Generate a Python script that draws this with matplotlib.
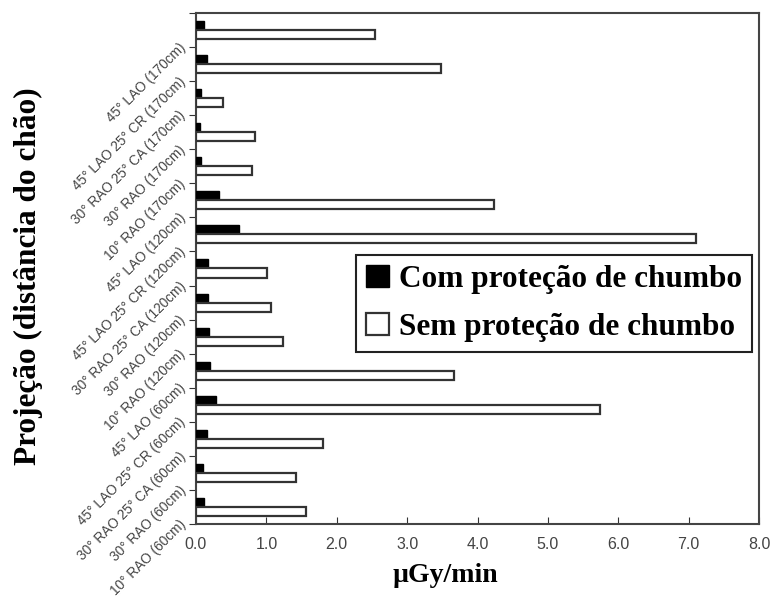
import numpy as np
import matplotlib
matplotlib.use("Agg")
import matplotlib.pyplot as plt
from matplotlib.transforms import ScaledTranslation

# categories from top to bottom
categories = [
    "45° LAO (170cm)", "45° LAO 25° CR (170cm)", "30° RAO 25° CA (170cm)",
    "30° RAO (170cm)", "10° RAO (170cm)",
    "45° LAO (120cm)", "45° LAO 25° CR (120cm)", "30° RAO 25° CA (120cm)",
    "30° RAO (120cm)", "10° RAO (120cm)",
    "45° LAO (60cm)", "45° LAO 25° CR (60cm)", "30° RAO 25° CA (60cm)",
    "30° RAO (60cm)", "10° RAO (60cm)",
]
com_protecao = [0.12, 0.15, 0.07, 0.06, 0.07, 0.33, 0.61, 0.17,
                0.17, 0.18, 0.20, 0.28, 0.15, 0.10, 0.11]
sem_protecao = [2.54, 3.48, 0.38, 0.84, 0.79, 4.23, 7.11, 1.01,
                1.06, 1.24, 3.66, 5.74, 1.81, 1.42, 1.56]
xticks = [0, 1, 2, 3, 4, 5, 6, 7, 8]

serif = ["Liberation Serif", "DejaVu Serif"]
sans = ["Liberation Sans", "DejaVu Sans"]

fig = plt.figure(figsize=(7.75, 6.01), dpi=100)
ax = fig.add_axes([0.2529, 0.1281, 0.7265, 0.8503])

y = np.arange(len(categories))
h = 0.265
ax.barh(y - h / 2, com_protecao, height=h, color="black", edgecolor="black",
        linewidth=1.0, label="Com proteção de chumbo", zorder=3)
ax.barh(y + h / 2, sem_protecao, height=h, color="white", edgecolor="#333333",
        linewidth=1.6, label="Sem proteção de chumbo", zorder=3)

ax.set_xlim(0, 8)
ax.set_ylim(len(categories) - 0.5, -0.5)

ax.set_xticks(xticks)
ax.set_xticklabels([f"{v:.1f}" for v in xticks], fontfamily=sans,
                   fontsize=11.5, color="#444444")
ax.tick_params(axis="x", direction="in", length=5, pad=9, color="#333333")

# boundaries get the tick marks, centers get the rotated labels
ax.set_yticks(np.arange(len(categories) + 1) - 0.5)
ax.set_yticklabels([])
ax.set_yticks(y, minor=True)
ax.set_yticklabels(categories, minor=True, rotation=45, ha="right",
                   va="center", rotation_mode="anchor", fontfamily=sans,
                   fontsize=9.8, color="#444444")
ax.tick_params(axis="y", which="major", direction="out", length=5,
               color="#333333")
ax.tick_params(axis="y", which="minor", length=0, pad=9)
shift = ScaledTranslation(0, -11 / 72, fig.dpi_scale_trans)
for lab in ax.get_yticklabels(minor=True):
    lab.set_transform(lab.get_transform() + shift)

for s in ax.spines.values():
    s.set_color("#444444")
    s.set_linewidth(1.5)

ax.set_xlabel("µGy/min", fontfamily=serif, fontweight="bold", fontsize=20)
ax.xaxis.set_label_coords(0.442, -0.1)
ax.xaxis.label.set_va("center")
ax.set_ylabel("Projeção (distância do chão)", fontfamily=serif,
              fontweight="bold", fontsize=22.5)
ax.yaxis.set_label_coords(-0.298, 0.485)
ax.yaxis.label.set_va("center")

leg = ax.legend(loc="upper right", bbox_to_anchor=(0.988, 0.526),
                prop={"family": serif, "weight": "bold", "size": 22.5},
                fancybox=False, framealpha=1, edgecolor="#222222",
                handlelength=0.75, handleheight=0.72, handletextpad=0.32,
                labelspacing=0.6, borderpad=0.32, borderaxespad=0)
leg.get_frame().set_linewidth(1.5)
leg.set_zorder(5)

fig.savefig("out.png", dpi=100)
